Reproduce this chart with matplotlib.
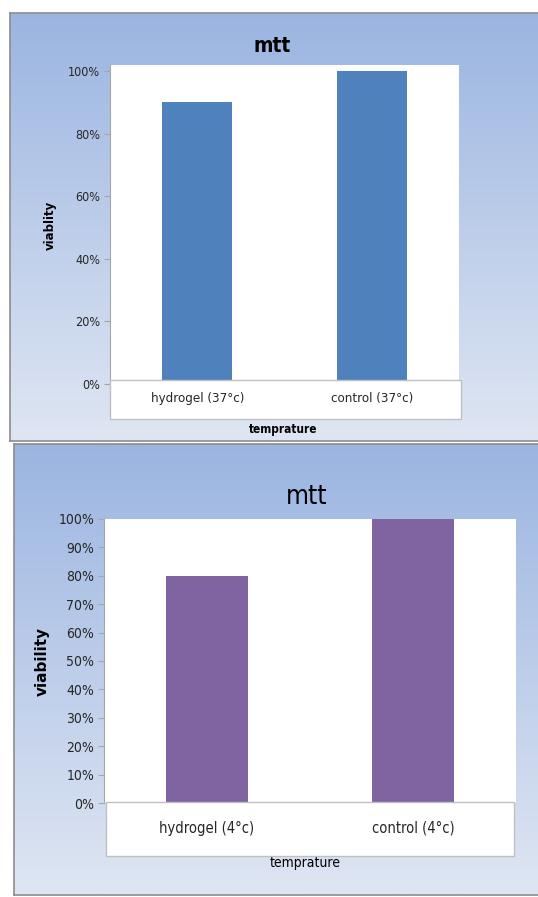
import numpy as np
import matplotlib.pyplot as plt
from matplotlib.patches import Rectangle
from matplotlib.colors import LinearSegmentedColormap
from matplotlib.ticker import PercentFormatter

# MTT viability results at two temperatures
categories_37 = ['hydrogel (37°c)', 'control (37°c)']
viability_37 = [0.90, 1.00]
yticks_37 = [0.0, 0.2, 0.4, 0.6, 0.8, 1.0]

categories_4 = ['hydrogel (4°c)', 'control (4°c)']
viability_4 = [0.80, 1.00]
yticks_4 = [0.0, 0.1, 0.2, 0.3, 0.4, 0.5, 0.6, 0.7, 0.8, 0.9, 1.0]

W, H = 538, 897
NARROW = dict(family='DejaVu Sans', fontstretch='condensed')

fig = plt.figure(figsize=(W / 100, H / 100), dpi=100)
fig.patch.set_facecolor('white')

grad = LinearSegmentedColormap.from_list('bg', ['#9bb5e1', '#dfe6f3'])


def px_rect(x0, y0, x1, y1):
    """Pixel box (top-left origin) -> figure fraction rect."""
    return [x0 / W, 1 - y1 / H, (x1 - x0) / W, (y1 - y0) / H]


def panel_background(x0, y0, x1, y1):
    bg = fig.add_axes(px_rect(x0, y0, x1, y1))
    bg.imshow(np.linspace(0, 1, 256).reshape(-1, 1), aspect='auto', cmap=grad,
              extent=[0, 1, 0, 1])
    bg.set_xticks([])
    bg.set_yticks([])
    for s in bg.spines.values():
        s.set_color('#8c8c8c')
        s.set_linewidth(1.2)
    return bg


def label_box(x0, y0, x1, y1):
    fig.patches.append(Rectangle((x0 / W, 1 - y1 / H), (x1 - x0) / W, (y1 - y0) / H,
                                 transform=fig.transFigure, facecolor='white',
                                 edgecolor='#c0c0c0', linewidth=1.0, zorder=5))


def draw_chart(rect, cats, vals, color, yticks, ytop, tick_size):
    ax = fig.add_axes(rect)
    x = np.arange(len(cats))
    ax.bar(x, vals, width=0.4, color=color, zorder=2)
    ax.set_xlim(-0.5, len(cats) - 0.5)
    ax.set_ylim(0, ytop)
    ax.set_facecolor('white')
    ax.set_yticks(yticks)
    ax.yaxis.set_major_formatter(PercentFormatter(1.0, decimals=0))
    ax.set_xticks([])
    for side in ['top', 'right', 'bottom']:
        ax.spines[side].set_visible(False)
    ax.spines['left'].set_color('#a6a6a6')
    ax.tick_params(axis='y', length=4, color='#a6a6a6', labelsize=tick_size,
                   labelcolor='#262626', pad=3)
    for t in ax.get_yticklabels():
        t.set_fontstretch('condensed')
    return ax, x


# top panel: 37 degrees
panel_background(10, 13, 545, 441)
ax1, x1 = draw_chart(px_rect(110, 65, 459, 384), categories_37, viability_37,
                     '#4f81bd', yticks_37, (384 - 65) / (384 - 71), 9)
label_box(110, 380, 461, 419)
for i, c in enumerate(categories_37):
    xf = (110 + (i + 0.5) * 349 / len(categories_37)) / W
    fig.text(xf, 1 - 398 / H, c, ha='center', va='center', fontsize=9.5,
             color='#262626', zorder=6, **NARROW)
fig.text(272 / W, 1 - 46 / H, 'mtt', ha='center', va='center', fontsize=15,
         fontweight='bold', color='black', **NARROW)
fig.text(50 / W, 1 - 225 / H, 'viablity', ha='center', va='center', rotation=90,
         fontsize=8.5, fontweight='bold', color='black')
fig.text(283 / W, 1 - 429 / H, 'temprature', ha='center', va='center',
         fontsize=8.5, fontweight='bold', color='black', **NARROW)

# bottom panel: 4 degrees
panel_background(14, 444, 545, 895)
ax2, x2 = draw_chart(px_rect(104, 519, 516, 803), categories_4, viability_4,
                     '#8064a2', yticks_4, 1.0, 10)
label_box(106, 802, 514, 856)
for i, c in enumerate(categories_4):
    xf = (104 + (i + 0.5) * 412 / len(categories_4)) / W
    fig.text(xf, 1 - 828 / H, c, ha='center', va='center', fontsize=10.5,
             color='#262626', zorder=6, **NARROW)
fig.text(307 / W, 1 - 497 / H, 'mtt', ha='center', va='center', fontsize=19,
         color='black', **NARROW)
fig.text(42 / W, 1 - 661 / H, 'viability', ha='center', va='center', rotation=90,
         fontsize=11, fontweight='bold', color='black')
fig.text(305 / W, 1 - 863 / H, 'temprature', ha='center', va='center',
         fontsize=10, color='black', **NARROW)

fig.savefig('out.png', dpi=100)
